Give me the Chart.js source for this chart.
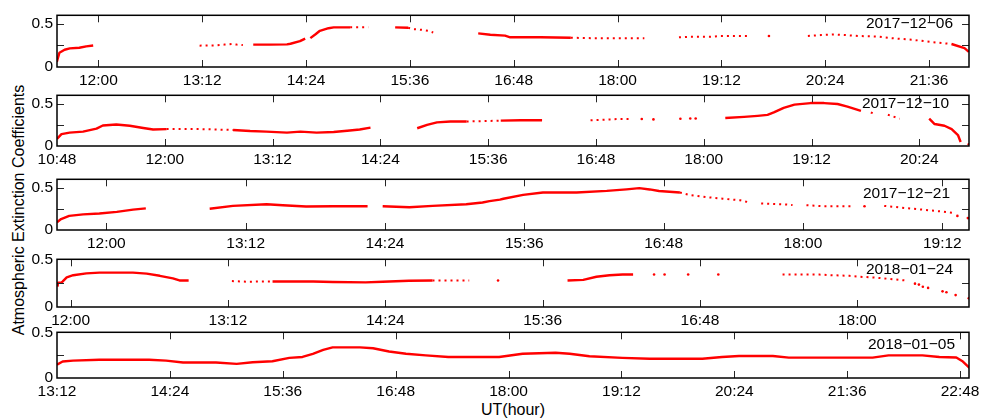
<!DOCTYPE html>
<html>
<head>
<meta charset="utf-8">
<script src="https://cdn.jsdelivr.net/npm/chart.js@4/dist/chart.umd.min.js"></script>
<style>
  html, body { margin: 0; padding: 0; background: #fff; }
  #wrap { position: relative; width: 989px; height: 420px; overflow: hidden; font-family: "Liberation Sans", Arial, sans-serif; }
  #wrap canvas { position: absolute; left: 0; }
  .ytitle { position: absolute; left: -131px; top: 201px; width: 300px; height: 18px; line-height: 18px;
            text-align: center; font-size: 16px; color: #000; transform: rotate(-90deg); transform-origin: 150px 9px; white-space: nowrap; }
  .xtitle { position: absolute; left: 413px; top: 401px; width: 200px; line-height: 18px; text-align: center; font-size: 16px; color: #000; }
</style>
</head>
<body>
<div id="wrap">
  <div class="ytitle">Atmospheric Extinction Coefficients</div>
  <div class="xtitle">UT(hour)</div>
</div>
<script>
// ---- Observation dates (one panel each) ----
const dates = ['2017\u221212\u221206', '2017\u221212\u221210', '2017\u221212\u221221', '2018\u221201\u221224', '2018\u221201\u221205'];

// ---- UT tick labels of each panel ----
const ticksDec06 = ['12:00', '13:12', '14:24', '15:36', '16:48', '18:00', '19:12', '20:24', '21:36'];
const ticksDec10 = ['10:48', '12:00', '13:12', '14:24', '15:36', '16:48', '18:00', '19:12', '20:24'];
const ticksDec21 = ['12:00', '13:12', '14:24', '15:36', '16:48', '18:00', '19:12'];
const ticksJan24 = ['12:00', '13:12', '14:24', '15:36', '16:48', '18:00'];
const ticksJan05 = ['13:12', '14:24', '15:36', '16:48', '18:00', '19:12', '20:24', '21:36', '22:48'];

// ---- Extinction coefficients: [UT hour, value]; each inner list is one run ----
// 2017-12-06
const dec06Solid = [
  [[11.52, 0.06], [11.55, 0.165], [11.61, 0.20], [11.67, 0.216], [11.78, 0.223], [11.86, 0.24], [11.94, 0.25]],
  [[13.79, 0.26], [13.98, 0.26], [14.18, 0.262], [14.22, 0.27], [14.33, 0.30], [14.39, 0.33]],
  [[14.45, 0.335], [14.51, 0.38], [14.56, 0.42], [14.66, 0.45], [14.72, 0.46], [14.91, 0.46]],
  [[15.43, 0.46], [15.58, 0.455]],
  [[16.39, 0.39], [16.53, 0.375], [16.70, 0.364], [16.76, 0.345], [17.11, 0.345], [17.46, 0.34]],
  [[21.86, 0.267], [22.01, 0.22], [22.06, 0.176]]
];
const dec06Dotted = [
  [[13.17, 0.248], [13.29, 0.25], [13.35, 0.25], [13.46, 0.26], [13.54, 0.267], [13.60, 0.26], [13.67, 0.255]],
  [[14.91, 0.46], [15.12, 0.46]],
  [[15.58, 0.455], [15.64, 0.44], [15.70, 0.435], [15.75, 0.43], [15.81, 0.42], [15.87, 0.40]],
  [[17.46, 0.34], [17.69, 0.335], [17.92, 0.335], [18.15, 0.335], [18.31, 0.335]],
  [[18.71, 0.345], [18.84, 0.35], [19.07, 0.35], [19.19, 0.36], [19.50, 0.36]],
  [[20.20, 0.36], [20.35, 0.37], [20.50, 0.378], [20.64, 0.37], [20.78, 0.36], [21.01, 0.353], [21.16, 0.335], [21.40, 0.317], [21.63, 0.29], [21.86, 0.267]]
];
const dec06Dots = [[19.75, 0.36]];

// 2017-12-10
const dec10Solid = [
  [[10.80, 0.085], [10.85, 0.14], [10.94, 0.158], [11.09, 0.17], [11.24, 0.206], [11.31, 0.243], [11.46, 0.254], [11.61, 0.24], [11.76, 0.213], [11.87, 0.195], [12.02, 0.2]],
  [[12.76, 0.19], [12.95, 0.177], [13.13, 0.17], [13.36, 0.158], [13.51, 0.17], [13.69, 0.158], [13.88, 0.165], [14.06, 0.184], [14.17, 0.195], [14.29, 0.217]],
  [[14.81, 0.21], [14.92, 0.25], [15.03, 0.28], [15.18, 0.29], [15.36, 0.29]],
  [[15.74, 0.30], [15.96, 0.305], [16.20, 0.305]],
  [[18.24, 0.331], [18.45, 0.345], [18.60, 0.357], [18.71, 0.368], [18.78, 0.397], [18.89, 0.452], [19.01, 0.489], [19.19, 0.508], [19.34, 0.508], [19.49, 0.497], [19.60, 0.467], [19.75, 0.416]],
  [[20.51, 0.323], [20.57, 0.26], [20.68, 0.24], [20.76, 0.20], [20.83, 0.13], [20.86, 0.047]]
];
const dec10Dotted = [
  [[12.02, 0.2], [12.39, 0.2], [12.76, 0.19]],
  [[15.36, 0.29], [15.55, 0.295], [15.74, 0.30]],
  [[16.74, 0.305], [16.85, 0.31], [16.96, 0.315], [17.07, 0.32], [17.20, 0.32]],
  [[19.86, 0.397], [19.90, 0.38]],
  [[20.05, 0.37], [20.18, 0.323]]
];
const dec10Dots = [[17.31, 0.32], [17.44, 0.315], [17.74, 0.323], [17.85, 0.325], [17.91, 0.325], [20.95, 0.02]];

// 2017-12-21
const dec21Solid = [
  [[11.575, 0.092], [11.61, 0.13], [11.68, 0.167], [11.80, 0.185], [11.94, 0.196], [12.09, 0.215], [12.23, 0.241], [12.34, 0.256]],
  [[12.89, 0.252], [13.09, 0.285], [13.38, 0.304], [13.52, 0.293], [13.72, 0.278], [13.95, 0.281], [14.25, 0.281]],
  [[14.38, 0.281], [14.61, 0.27], [14.81, 0.285], [15.10, 0.304], [15.24, 0.326], [15.30, 0.341], [15.39, 0.359], [15.42, 0.37], [15.59, 0.415], [15.76, 0.444], [16.05, 0.444], [16.31, 0.463], [16.48, 0.481], [16.59, 0.496], [16.68, 0.48], [16.76, 0.462], [16.94, 0.444]]
];
const dec21Dotted = [
  [[16.94, 0.444], [17.02, 0.415], [17.17, 0.389], [17.31, 0.37], [17.46, 0.352], [17.54, 0.326]],
  [[17.64, 0.315], [17.83, 0.304], [17.91, 0.296]],
  [[18.03, 0.293], [18.17, 0.281], [18.43, 0.281]],
  [[18.70, 0.285], [18.89, 0.259], [19.03, 0.241], [19.17, 0.222], [19.29, 0.204]]
];
const dec21Dots = [[18.53, 0.281], [19.33, 0.167], [19.42, 0.141]];

// 2018-01-24
const jan24Solid = [
  [[11.90, 0.213], [11.904, 0.255], [11.93, 0.255], [11.94, 0.268], [11.97, 0.31], [12.02, 0.333], [12.12, 0.353], [12.22, 0.36], [12.475, 0.36], [12.58, 0.35], [12.68, 0.327], [12.78, 0.30], [12.83, 0.278], [12.90, 0.278]],
  [[13.54, 0.268], [13.85, 0.268], [14.00, 0.262], [14.25, 0.258], [14.38, 0.265], [14.58, 0.275], [14.76, 0.278]],
  [[15.79, 0.278], [15.91, 0.284], [16.01, 0.317], [16.11, 0.333], [16.21, 0.34], [16.29, 0.34]]
];
const jan24Dotted = [
  [[13.23, 0.272], [13.34, 0.265], [13.49, 0.268], [13.54, 0.268]],
  [[14.76, 0.278], [14.86, 0.278], [14.97, 0.278], [15.04, 0.278]],
  [[17.43, 0.34], [17.56, 0.34], [17.71, 0.34], [17.81, 0.333], [17.94, 0.327], [18.02, 0.317], [18.12, 0.31], [18.25, 0.294], [18.37, 0.278]]
];
const jan24Dots = [[15.26, 0.278], [16.45, 0.34], [16.53, 0.34], [16.71, 0.34], [16.94, 0.34],
  [18.44, 0.245], [18.47, 0.235], [18.50, 0.213], [18.54, 0.20], [18.65, 0.164], [18.68, 0.155], [18.75, 0.125], [18.85, 0.092]];

// 2018-01-05
const jan05Solid = [
  [[13.20, 0.145], [13.26, 0.18], [13.37, 0.19], [13.65, 0.20], [14.18, 0.20], [14.36, 0.19], [14.54, 0.17], [14.89, 0.17], [15.11, 0.155], [15.28, 0.172], [15.49, 0.183], [15.67, 0.22], [15.81, 0.23], [15.92, 0.265], [16.03, 0.307], [16.13, 0.335], [16.42, 0.335], [16.56, 0.325], [16.73, 0.29], [16.91, 0.265], [17.12, 0.248], [17.36, 0.23], [17.90, 0.23], [18.15, 0.265], [18.50, 0.276], [18.65, 0.265], [18.86, 0.238], [19.21, 0.22], [19.50, 0.21], [20.06, 0.21], [20.27, 0.23], [20.45, 0.24], [20.81, 0.24], [20.98, 0.223], [21.87, 0.223], [22.04, 0.248], [22.40, 0.248], [22.58, 0.23], [22.76, 0.225], [22.83, 0.18], [22.90, 0.11]]
];
const jan05Dotted = [];
const jan05Dots = [];

// ---- helpers ----
const FONT = { family: '"Liberation Sans", Arial, Helvetica, sans-serif', size: 15.5 };
const RED = '#ff0000';
const hm = s => { const [h, m] = s.split(':').map(Number); return h + m / 60; };
const toXY = run => run.map(([x, y]) => ({ x, y }));

function buildSets(solid, dotted, dots) {
  const sets = [];
  solid.forEach(r => sets.push({ data: toXY(r), borderColor: RED, borderWidth: 2.4, pointRadius: 0, fill: false, borderJoinStyle: 'round' }));
  dotted.forEach(r => sets.push({ data: toXY(r), borderColor: RED, borderWidth: 2, borderDash: [2, 4], pointRadius: 0, fill: false }));
  if (dots.length) sets.push({ data: toXY(dots), showLine: false, pointRadius: 1.3, pointBackgroundColor: RED, pointBorderWidth: 0 });
  return sets;
}

// frame, inward tick marks and the date caption of a panel
const framePlugin = {
  id: 'frame',
  afterDatasetsDraw(chart, args, opts) {
    const { ctx, chartArea: a, scales: { x, y } } = chart;
    ctx.save();
    ctx.strokeStyle = '#262626';
    ctx.lineWidth = 1;
    const L = 7;
    ctx.beginPath();
    x.ticks.forEach(t => {
      const px = Math.round(x.getPixelForValue(t.value)) + 0.5;
      if (px <= a.left + 2 || px >= a.right - 2) return;
      ctx.moveTo(px, a.bottom); ctx.lineTo(px, a.bottom - L);
      ctx.moveTo(px, a.top); ctx.lineTo(px, a.top + L);
    });
    [0.25, 0.5].forEach(v => {
      if (v >= y.max - 1e-9) return;
      const py = Math.round(y.getPixelForValue(v)) + 0.5;
      ctx.moveTo(a.left, py); ctx.lineTo(a.left + L, py);
      ctx.moveTo(a.right, py); ctx.lineTo(a.right - L, py);
    });
    ctx.stroke();
    ctx.lineWidth = 1.5;
    ctx.strokeStyle = '#000';
    ctx.strokeRect(a.left, a.top, a.right - a.left, a.bottom - a.top);
    ctx.fillStyle = '#000';
    ctx.font = FONT.size + 'px ' + FONT.family;
    ctx.textAlign = 'right';
    ctx.textBaseline = 'middle';
    ctx.fillText(opts.label, a.right + opts.dx, a.top + opts.dy);
    ctx.restore();
  }
};

const PAD_TOP = 10, X_AXIS_H = 26, LEFT = 57, RIGHT = 969, W = 989;

const panels = [
  { top: 12,  bottom: 67,  xmin: 11.522, xmax: 22.062, ymax: 0.6, ticks: ticksDec06, label: dates[0], dx: -16, dy: 8.5,
    sets: buildSets(dec06Solid, dec06Dotted, dec06Dots) },
  { top: 92,  bottom: 146, xmin: 10.8,   xmax: 20.953, ymax: 0.6, ticks: ticksDec10, label: dates[1], dx: -20, dy: 8,
    sets: buildSets(dec10Solid, dec10Dotted, dec10Dots) },
  { top: 176, bottom: 230, xmin: 11.575, xmax: 19.43,  ymax: 0.6, ticks: ticksDec21, label: dates[2], dx: -19, dy: 14.5,
    sets: buildSets(dec21Solid, dec21Dotted, dec21Dots) },
  { top: 256, bottom: 307, xmin: 11.896, xmax: 18.852, ymax: 0.5, ticks: ticksJan24, label: dates[3], dx: -16, dy: 10,
    sets: buildSets(jan24Solid, jan24Dotted, jan24Dots) },
  { top: 329, bottom: 378, xmin: 13.2,   xmax: 22.895, ymax: 0.5, ticks: ticksJan05, label: dates[4], dx: -14, dy: 12,
    sets: buildSets(jan05Solid, jan05Dotted, jan05Dots) }
];

const wrap = document.getElementById('wrap');
panels.forEach(p => {
  const cv = document.createElement('canvas');
  const h = (p.bottom - p.top) + PAD_TOP + X_AXIS_H;
  cv.width = W; cv.height = h;
  cv.style.top = (p.top - PAD_TOP) + 'px';
  cv.style.width = W + 'px'; cv.style.height = h + 'px';
  wrap.appendChild(cv);
  const tickVals = p.ticks.map(hm);
  new Chart(cv, {
    type: 'line',
    data: { datasets: p.sets },
    plugins: [framePlugin],
    options: {
      responsive: false,
      animation: false,
      events: [],
      devicePixelRatio: 1,
      layout: { padding: { top: PAD_TOP, right: W - RIGHT, left: 0, bottom: 0 } },
      plugins: { legend: { display: false }, tooltip: { enabled: false }, title: { display: false },
                 frame: { label: p.label, dx: p.dx, dy: p.dy } },
      elements: { line: { tension: 0 } },
      scales: {
        x: {
          type: 'linear', min: p.xmin, max: p.xmax,
          afterBuildTicks: s => { s.ticks = tickVals.map(v => ({ value: v })); },
          afterFit: s => { s.height = X_AXIS_H; },
          grid: { display: false, drawTicks: false },
          border: { display: false },
          ticks: { color: '#000', font: FONT, padding: 4.5, maxRotation: 0, autoSkip: false,
                   callback: (v, i) => p.ticks[i] }
        },
        y: {
          min: 0, max: p.ymax,
          afterBuildTicks: s => { s.ticks = [0, 0.25, 0.5].map(v => ({ value: v })); },
          afterFit: s => { s.width = LEFT; },
          grid: { display: false, drawTicks: false },
          border: { display: false },
          ticks: { color: '#000', font: FONT, padding: 4,
                   callback: v => (v === 0.25 ? '' : String(v)) }
        }
      }
    }
  });
});
</script>
</body>
</html>
